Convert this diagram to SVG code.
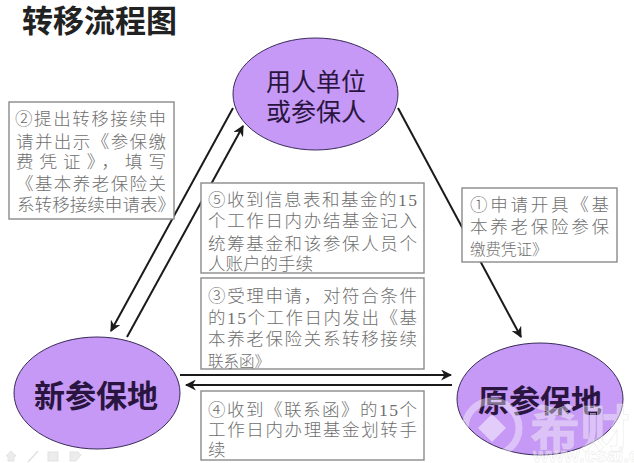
<svg xmlns="http://www.w3.org/2000/svg" width="634" height="463" viewBox="0 0 634 463">
<style>
.node ellipse{fill:#c599f5;stroke:#3a2a5a;stroke-width:1}
.box rect{fill:#fff;stroke:#8a8a8a;stroke-width:1.4}
.box text{font-family:"Liberation Serif","Noto Sans CJK SC",serif;font-size:17.5px;font-weight:300;fill:#6e6e6e}
.box text.s{font-size:15.5px}
.lab{font-family:"Noto Sans CJK SC",sans-serif;fill:#2a1540;text-anchor:middle}
.c line{stroke:#1a1a1a;stroke-width:2}
.wm{fill:#fff;fill-opacity:.4;stroke:#dcdcdc;stroke-opacity:.7;stroke-width:.5;font-family:"Liberation Sans","Noto Sans CJK SC",sans-serif;font-weight:700}
.ic{fill:#ececec;stroke:#e2e2e2}
</style>
<defs><marker id="a" viewBox="0 0 10 10" refX="9" refY="5" markerWidth="5.500" markerHeight="5.500" orient="auto" markerUnits="strokeWidth"><path d="M0 0L10 5L0 10L3 5z" fill="#1a1a1a"/></marker></defs>
<rect width="634" height="463" fill="#fff"/>
<text x="22" y="32" font-family="Noto Sans CJK SC,sans-serif" font-weight="700" font-size="31" fill="#222" id="title">转移流程图</text>
<g class="c" id="connectors">
<line x1="398" y1="108" x2="521" y2="337" marker-end="url(#a)"/>
<line x1="233" y1="108" x2="111" y2="331" marker-end="url(#a)"/>
<line x1="127" y1="337" x2="243" y2="126" marker-end="url(#a)"/>
<line x1="180" y1="375" x2="451" y2="375" marker-end="url(#a)"/>
<line x1="452" y1="385" x2="186" y2="385" marker-end="url(#a)"/>
</g>
<g id="n-top" class="node"><ellipse cx="315.500" cy="94" rx="82.500" ry="56"/><text class="lab" font-size="25"><tspan x="316" y="91">用人单位</tspan><tspan x="316" y="121">或参保人</tspan></text></g>
<g id="n-left" class="node"><ellipse cx="97" cy="393" rx="83" ry="56"/><text class="lab" x="96" y="407" font-size="31" font-weight="700">新参保地</text></g>
<g id="n-right" class="node"><ellipse cx="540" cy="399" rx="83" ry="56"/><text class="lab" x="540" y="412" font-size="31" font-weight="700">原参保地</text></g>
<g id="b2" class="box"><rect x="9" y="102" width="165" height="117"/>
<text x="15" y="125" textLength="151">②提出转移接续申</text><text x="16" y="148" textLength="150">请并出示《参保缴</text><text x="16" y="168" textLength="150">费凭证》，填写</text><text x="16" y="190" textLength="150">《基本养老保险关</text><text x="17" y="211" textLength="158">系转移接续申请表》</text></g>
<g id="b5" class="box"><rect x="201" y="183" width="223" height="90"/>
<text x="208" y="206" textLength="209">⑤收到信息表和基金的15</text><text x="208" y="227" textLength="209">个工作日内办结基金记入</text><text x="208" y="250" textLength="209">统筹基金和该参保人员个</text><text x="208" y="270" textLength="105">人账户的手续</text></g>
<g id="b3" class="box"><rect x="201" y="278" width="223" height="91"/>
<text x="208" y="302" textLength="209">③受理申请，对符合条件</text><text x="208" y="324" textLength="209">的15个工作日内发出《基</text><text x="208" y="345" textLength="209">本养老保险关系转移接续</text><text class="s" x="208" y="367">联系函》</text></g>
<g id="b4" class="box"><rect x="201" y="391" width="223" height="69"/>
<text x="208" y="416" textLength="209">④收到《联系函》的15个</text><text x="208" y="436" textLength="209">工作日内办理基金划转手</text><text x="208" y="456">续</text></g>
<g id="b1" class="box"><rect x="462" y="188" width="155" height="74"/>
<text x="470" y="211" textLength="139">①申请开具《基</text><text x="470" y="233" textLength="139">本养老保险参保</text><text class="s" x="470" y="255">缴费凭证》</text></g>
<g id="watermark">
<circle cx="492" cy="428" r="27" fill="none" stroke="#fff" stroke-opacity=".4" stroke-width="7"/>
<path d="M492 414L506 428L492 442L478 428z" fill="#fff" fill-opacity=".5"/>
<text class="wm" x="530" y="447" font-size="50">希财</text>
<text class="wm" x="533" y="462" font-size="20">www.csai.cn</text>
</g>
<g id="icons">
<path class="ic" d="M6 456L11 451L16 456L14 456L14 461L8 461L8 456z"/>
<path class="ic" d="M28 462L38 451" fill="none" stroke-width="1.500"/>
<rect class="ic" x="48" y="452" width="10" height="9"/>
<path class="ic" d="M70 452L78 452L81 455L76 461L70 461z"/>
</g>
</svg>
